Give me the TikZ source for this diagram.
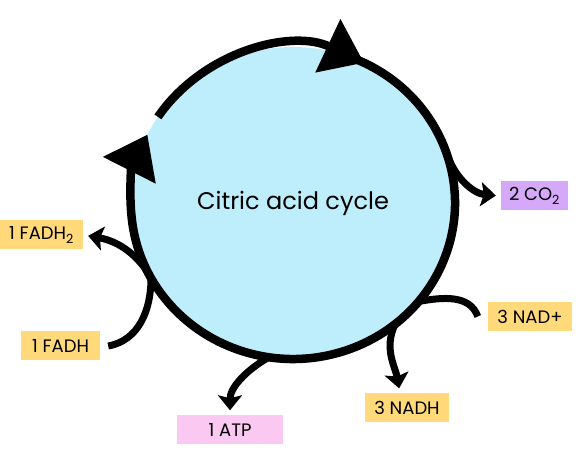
\documentclass[tikz,border=0pt]{standalone}
\usepackage{fontspec}
\setmainfont{Poppins}
\usepackage{tikz}
\usetikzlibrary{shapes.geometric, arrows.meta}
\definecolor{cycblue}{RGB}{190,238,252}
\definecolor{molyellow}{RGB}{255,217,122}
\definecolor{atppink}{RGB}{250,200,240}
\definecolor{copurple}{RGB}{214,168,250}
\tikzstyle{cyc} = [ellipse, minimum width=324pt, minimum height=312pt, inner sep=0pt, fill=cycblue, font=\fontsize{24}{28}\selectfont]
\tikzstyle{mol} = [rectangle, minimum height=29pt, inner sep=0pt, text centered, fill=molyellow, font=\fontsize{18}{20}\selectfont]
\tikzstyle{ring} = [line width=8.5pt, -{Triangle[length=40pt,width=57pt]}]
\tikzstyle{arrow} = [line width=7pt, shorten >=5pt, -{Stealth[length=15pt,width=24pt,inset=3pt]}]
\tikzstyle{feed} = [line width=7pt]

\begin{document}
\begin{tikzpicture}[x=1pt, y=1pt]
\useasboundingbox (0,0) rectangle (587,468);
\node[cyc] (cycle) at (293,265) {Citric acid cycle};
% the turning cycle
\draw[ring] (cycle.center) ++(146.5:162 and 156) arc[start angle=146.5, end angle=64, x radius=162, y radius=156];
\draw[ring] (cycle.center) ++(70:162 and 156) arc[start angle=70, end angle=-206, x radius=162, y radius=156];
% what goes in and out
\node[mol, fill=copurple, minimum width=67pt] (co2) at (534.5,272) {2 CO\textsubscript{2}};
\node[mol, minimum width=84pt] (nadp) at (530,151.5) {3 NAD+};
\node[mol, minimum width=84pt] (nadh) at (407,60) {3 NADH};
\node[mol, fill=atppink, minimum width=106pt] (atp) at (230,38) {1 ATP};
\node[mol, minimum width=79pt] (fadh) at (60.5,122) {1 FADH};
\node[mol, minimum width=83pt] (fadhtwo) at (41.5,233) {1 FADH\textsubscript{2}};
\draw[arrow] (cycle.17) to[out=-70, in=175] (co2.west);
\draw[feed] ([xshift=-10pt]nadp.west) to[out=110, in=10] (cycle.-38);
\draw[arrow] (cycle.-50) to[out=-115, in=100] ([xshift=-7pt]nadh.north);
\draw[arrow] (cycle.-99) to[out=-150, in=90] (atp.north);
\draw[feed] ([xshift=8pt]fadh.east) to[out=10, in=-90] (cycle.-152);
\draw[arrow] (cycle.-155) to[out=125, in=-10] (fadhtwo.east);
\end{tikzpicture}
\end{document}
